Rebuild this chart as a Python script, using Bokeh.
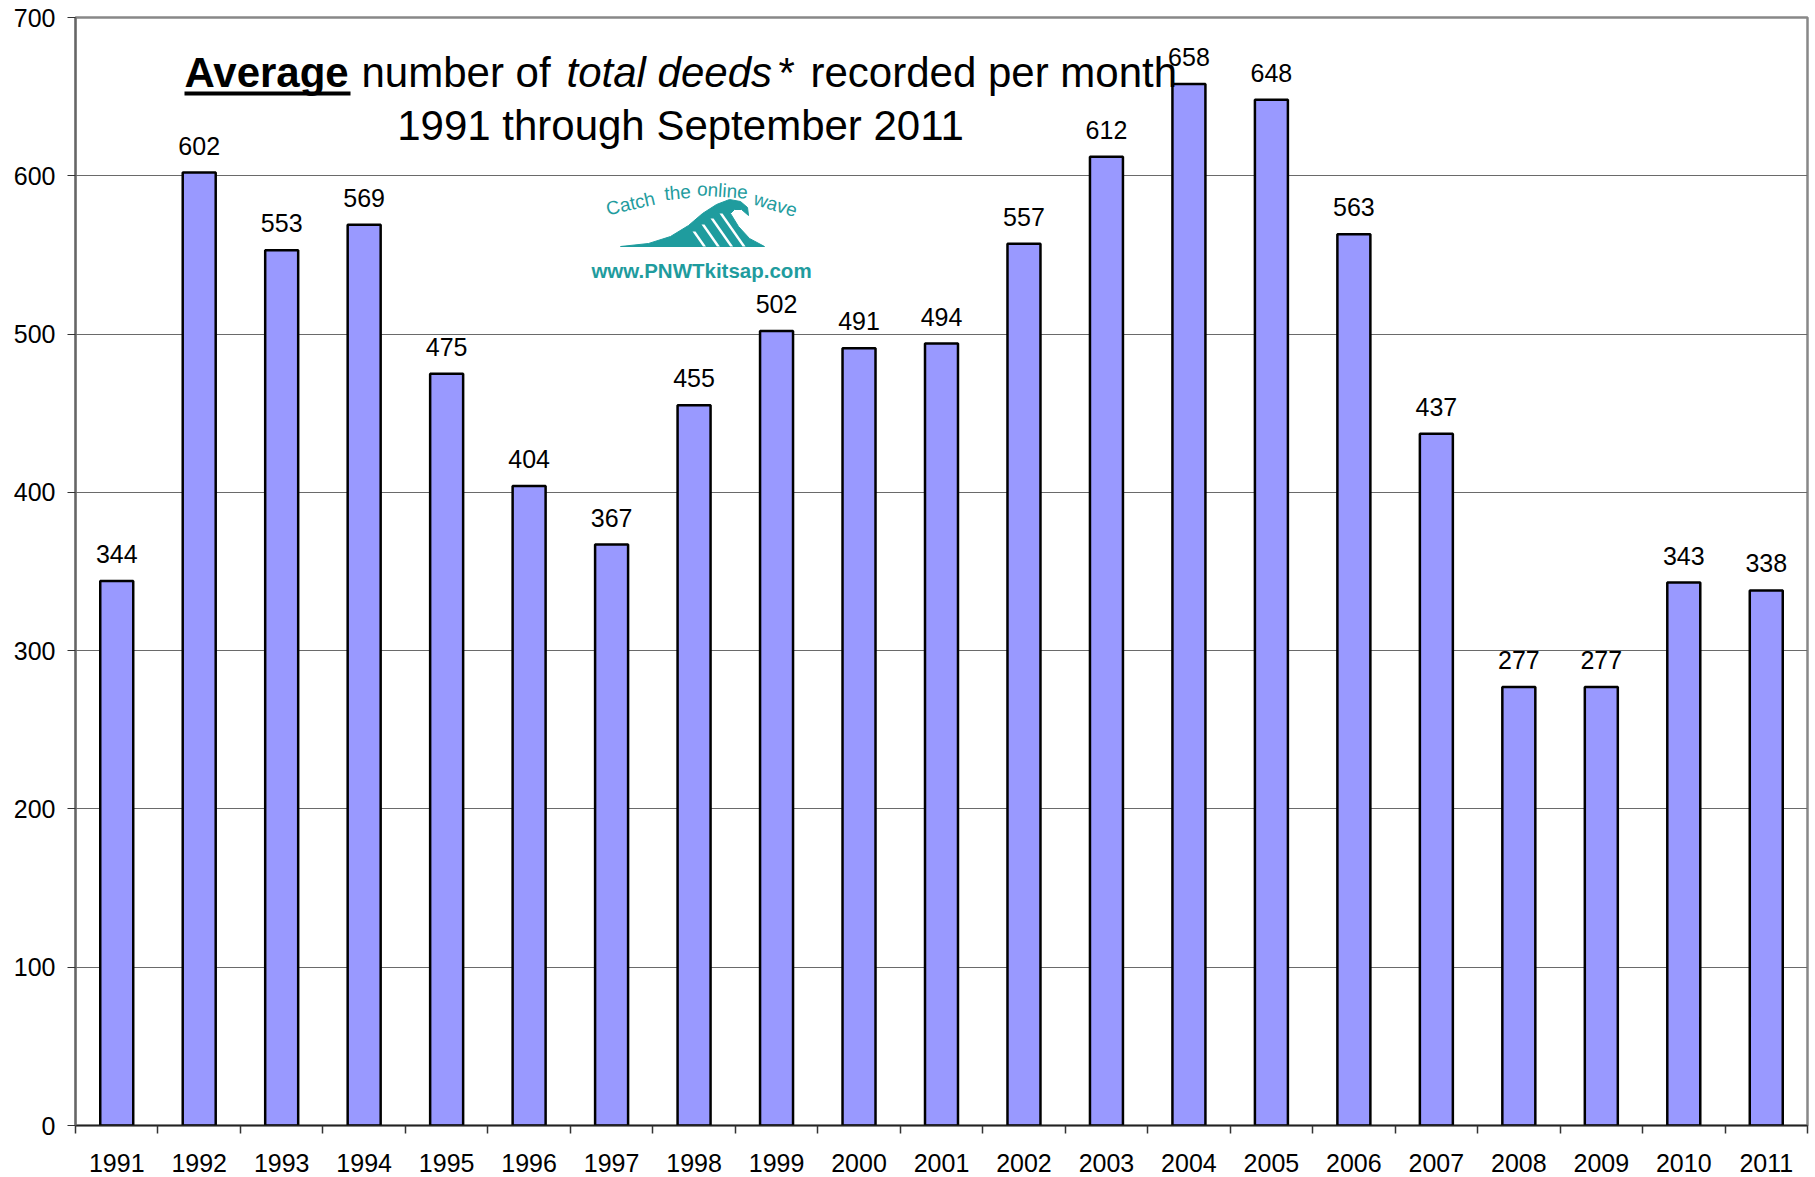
from bokeh.plotting import figure
from bokeh.models import FixedTicker, Label, BoxAnnotation, PolyAnnotation, Range1d, ColumnDataSource
from bokeh.core.properties import value
from bokeh.embed import file_html
from bokeh.resources import INLINE

# ---- data ----
years = ["1991", "1992", "1993", "1994", "1995", "1996", "1997", "1998", "1999", "2000",
         "2001", "2002", "2003", "2004", "2005", "2006", "2007", "2008", "2009", "2010", "2011"]
deeds = [344, 602, 553, 569, 475, 404, 367, 455, 502, 491,
         494, 557, 612, 658, 648, 563, 437, 277, 277, 343, 338]
y_ticks = [0, 100, 200, 300, 400, 500, 600, 700]

FONT = "Liberation Sans"
TEAL = "#1f9c9e"

n = len(years)
centers = [i + 0.5 for i in range(n)]
bounds = list(range(n + 1))

# frame geometry (page pixels) used to place decorative annotations
FL, FT, FR, FB = 75.0, 17.0, 1807.0, 1125.0
W, H = 1815, 1177
def dx(px):
    return (px - FL) / (FR - FL) * n
def dy(py):
    return (FB - py) / (FB - FT) * 700.0

p = figure(width=W, height=H, x_range=Range1d(0, n), y_range=Range1d(0, 700),
           output_backend="svg", toolbar_location=None,
           min_border_left=int(FL), min_border_right=int(W - FR), min_border_top=int(FT),
           min_border_bottom=int(H - FB))
p.background_fill_color = "white"
p.border_fill_color = "white"
p.outline_line_color = "#888888"
p.outline_line_width = 2.5

p.xgrid.visible = False
p.ygrid.grid_line_color = "#6a6a6a"
p.ygrid.grid_line_width = 1
p.ygrid.ticker = FixedTicker(ticks=y_ticks)

p.yaxis.ticker = FixedTicker(ticks=y_ticks)
p.yaxis.axis_line_color = "#666666"
p.yaxis.axis_line_width = 2
p.yaxis.major_tick_out = 8
p.yaxis.major_tick_in = 0
p.yaxis.major_tick_line_color = "#333333"
p.yaxis.minor_tick_out = 0
p.yaxis.minor_tick_in = 0
p.yaxis.major_label_standoff = 12
p.yaxis.major_label_text_font = FONT
p.yaxis.major_label_text_font_size = "25px"
p.yaxis.major_label_text_color = "black"

p.xaxis.ticker = FixedTicker(ticks=centers, minor_ticks=bounds)
p.xaxis.major_label_overrides = {c: y for c, y in zip(centers, years)}
p.xaxis.axis_line_color = "#222222"
p.xaxis.axis_line_width = 1.5
p.xaxis.major_tick_out = 0
p.xaxis.major_tick_in = 0
p.xaxis.minor_tick_out = 8
p.xaxis.minor_tick_in = 0
p.xaxis.minor_tick_line_color = "#333333"
p.xaxis.minor_tick_line_width = 1.5
p.xaxis.major_label_standoff = 20
p.xaxis.major_label_text_font = FONT
p.xaxis.major_label_text_font_size = "25px"
p.xaxis.major_label_text_color = "black"

src = ColumnDataSource(dict(x=centers, top=deeds, label=[str(v) for v in deeds]))
p.vbar(x="x", top="top", width=0.4, source=src, fill_color="#9999FF",
       line_color="black", line_width=2.5)
p.text(x="x", y="top", text="label", source=src, text_align="center",
       text_baseline="alphabetic", y_offset=-27, text_font=value(FONT),
       text_font_size="25px", text_color="black")

# ---- title ----
def tlabel(px, py, txt, style="normal", align="left", size="42px", color="black", angle=0, baseline="alphabetic"):
    p.add_layout(Label(x=dx(px), y=dy(py), text=txt, text_font=FONT, text_font_size=size,
                       text_font_style=style, text_align=align, text_baseline=baseline,
                       text_color=color, angle=angle, angle_units="deg"))

BL1 = 72
tlabel(184, BL1, "Average", style="bold")
p.add_layout(BoxAnnotation(left=dx(184), right=dx(350), top=dy(91), bottom=dy(95),
                           fill_color="black", fill_alpha=1, line_alpha=0))
tlabel(361, BL1, "number of")
tlabel(566, BL1, "total deeds", style="italic")
tlabel(778, BL1, "*")
tlabel(810, BL1, "recorded per month")
tlabel(680, 125, "1991 through September 2011", align="center", size="42px")

# ---- logo ----
tlabel(630, 203, "Catch", size="19px", color=TEAL, align="center", angle=13, baseline="middle")
tlabel(677, 192, "the", size="19px", color=TEAL, align="center", angle=5, baseline="middle")
tlabel(722, 190, "online", size="19px", color=TEAL, align="center", angle=-4, baseline="middle")
tlabel(775, 204, "wave", size="19px", color=TEAL, align="center", angle=-17, baseline="middle")
tlabel(701, 270, "www.PNWTkitsap.com", size="20.5px", color=TEAL, align="center", style="bold", baseline="middle")

wave = [(620, 246), (648, 243), (670, 236), (688, 225), (702, 213), (716, 204), (729, 199),
        (740, 201), (747, 207), (748, 215), (741, 209), (734, 209), (730, 213), (738, 226),
        (749, 238), (764, 246)]
p.add_layout(PolyAnnotation(xs=[dx(a) for a, b in wave], ys=[dy(b) for a, b in wave],
                            fill_color=TEAL, fill_alpha=1, line_color=TEAL, line_alpha=1, line_width=1))
for sx, sy in [(692, 231), (701, 224), (710, 218), (719, 213)]:
    pts = [(sx, sy), (sx + 3, sy), (sx + 3 + (246 - sy) * 0.7, 246), (sx + (246 - sy) * 0.7, 246)]
    p.add_layout(PolyAnnotation(xs=[dx(a) for a, b in pts], ys=[dy(b) for a, b in pts],
                                fill_color="white", fill_alpha=1, line_alpha=0))

open("out.html", "w").write(file_html(p, INLINE))
